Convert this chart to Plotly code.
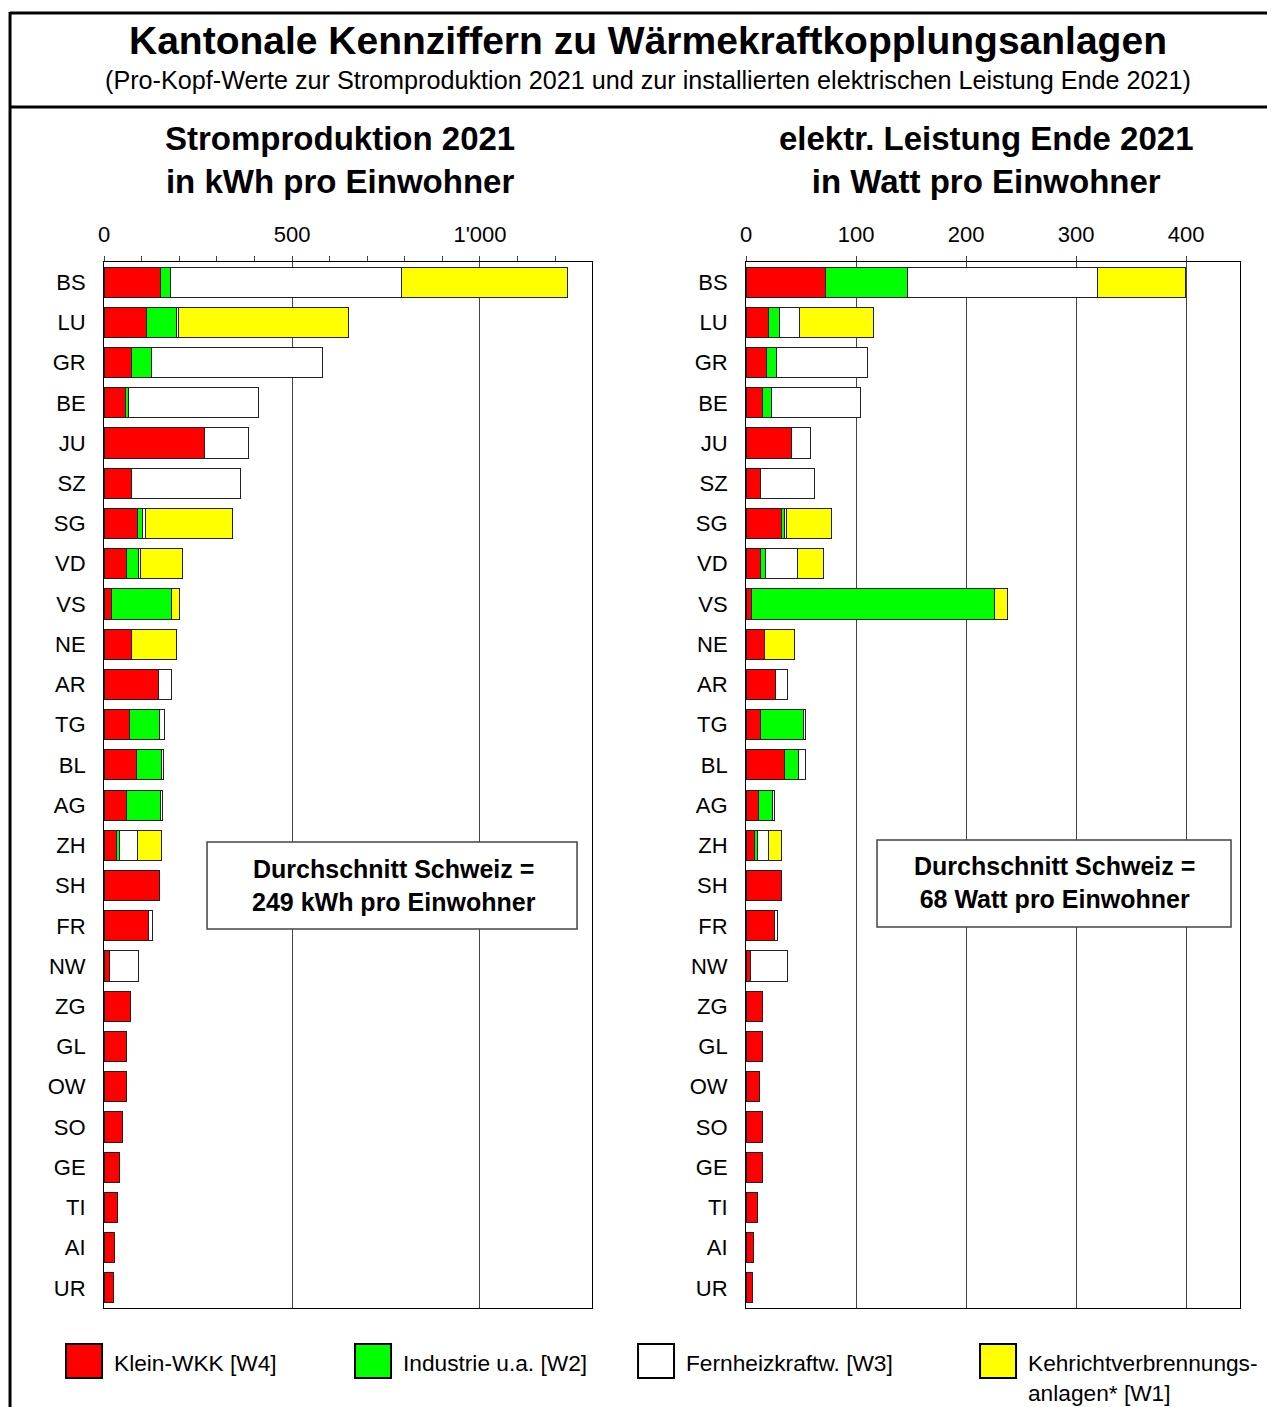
import plotly.graph_objects as go

# Kantone, von oben nach unten
kantone = ["BS", "LU", "GR", "BE", "JU", "SZ", "SG", "VD", "VS", "NE", "AR", "TG", "BL",
           "AG", "ZH", "SH", "FR", "NW", "ZG", "GL", "OW", "SO", "GE", "TI", "AI", "UR"]

# Stromproduktion 2021 in kWh pro Einwohner
kwh_klein = [150, 112, 72, 56, 266, 74, 88, 59, 21, 73, 146, 67, 86,
             60, 32, 148, 117, 15, 70, 61, 60, 50, 40, 35, 27, 25]
kwh_industrie = [28, 81, 55, 10, 0, 0, 13, 33, 158, 0, 0, 80, 66,
                 90, 8, 0, 0, 0, 0, 0, 0, 0, 0, 0, 0, 0]
kwh_fernheiz = [612, 6, 454, 346, 117, 288, 8, 6, 1, 0, 34, 13, 6,
                6, 50, 0, 13, 77, 0, 0, 0, 0, 0, 0, 0, 0]
kwh_kva = [444, 451, 0, 0, 0, 0, 234, 112, 21, 121, 0, 0, 0,
           0, 64, 0, 0, 0, 0, 0, 0, 0, 0, 0, 0, 0]

# elektrische Leistung Ende 2021 in Watt pro Einwohner
w_klein = [72, 20, 19, 15, 41, 13, 32, 13, 5, 17, 27, 13, 35,
           11, 8, 32, 26, 4, 15, 15, 12, 15, 15, 10, 7, 6]
w_industrie = [75, 10, 9, 8, 0, 0, 3, 5, 221, 0, 0, 39, 13,
               13, 2, 0, 0, 0, 0, 0, 0, 0, 0, 0, 0, 0]
w_fernheiz = [172, 19, 82, 81, 18, 49, 2, 29, 0, 0, 11, 2, 6,
              1.5, 10, 0, 3, 34, 0, 0, 0, 0, 0, 0, 0, 0]
w_kva = [80, 67, 0, 0, 0, 0, 41, 23, 12, 27, 0, 0, 0,
         0, 12, 0, 0, 0, 0, 0, 0, 0, 0, 0, 0, 0]

serien = ["Klein-WKK [W4]", "Industrie u.a. [W2]", "Fernheizkraftw. [W3]",
          "Kehrichtverbrennungs-<br>anlagen* [W1]"]
farben = ["#ff0000", "#00ff00", "#ffffff", "#ffff00"]

schnitt_kwh = 249
schnitt_watt = 68

OFF = 8  # Seitenrand des Browsers
W, H = 1275, 1407
FONT = "Arial, Liberation Sans, sans-serif"


def px(x):
    # kleine Korrektur, damit die Positionen im Bild stimmen
    x = (x - 6) / 0.9953
    return (x - OFF) / W


def py(y):
    return 1 - (y - OFF) / H


fig = go.Figure()

for name, farbe, werte in zip(serien, farben, [kwh_klein, kwh_industrie, kwh_fernheiz, kwh_kva]):
    fig.add_trace(go.Bar(y=kantone, x=werte, orientation="h", name=name,
                         marker=dict(color=farbe, line=dict(color="#222", width=1)),
                         xaxis="x", yaxis="y", showlegend=False))

for name, farbe, werte in zip(serien, farben, [w_klein, w_industrie, w_fernheiz, w_kva]):
    fig.add_trace(go.Bar(y=kantone, x=werte, orientation="h", name=name,
                         marker=dict(color=farbe, line=dict(color="#222", width=1)),
                         xaxis="x2", yaxis="y2", showlegend=False))

achse_y = dict(categoryorder="array", categoryarray=kantone, autorange="reversed",
               showline=True, mirror=True, linecolor="black", linewidth=1,
               ticks="", ticklabelstandoff=13, tickfont=dict(size=22, color="black"),
               showgrid=False, zeroline=False)

achse_x = dict(side="top", ticks="outside", ticklen=5, tickcolor="#444",
               ticklabelstandoff=5,
               showgrid=True, gridcolor="#444", gridwidth=1,
               showline=True, mirror=True, linecolor="black", linewidth=1,
               zeroline=False, tickfont=dict(size=22, color="black"))

fig.update_layout(
    width=W, height=H,
    margin=dict(l=0, r=0, t=0, b=0),
    paper_bgcolor="white", plot_bgcolor="white",
    font=dict(family=FONT, color="black"),
    barmode="stack", bargap=0.25,
    xaxis=dict(domain=[px(104), px(592)], range=[0, 1298],
               tickvals=[0, 500, 1000], ticktext=["0", "500", "1'000"],
               minor=dict(dtick=100, tick0=0, ticks="outside", ticklen=5, tickcolor="#444", showgrid=False),
               anchor="y", **achse_x),
    yaxis=dict(domain=[py(1308), py(262)], anchor="x", **achse_y),
    xaxis2=dict(domain=[px(746), px(1240)], range=[0, 449],
                tickvals=[0, 100, 200, 300, 400], anchor="y2", **achse_x),
    yaxis2=dict(domain=[py(1308), py(262)], anchor="x2", **achse_y),
)

# Rahmen
shapes = [
    dict(type="line", xref="paper", yref="paper", x0=px(10), x1=1.2, y0=py(13), y1=py(13),
         line=dict(color="black", width=3)),
    dict(type="line", xref="paper", yref="paper", x0=px(10), x1=1.2, y0=py(107), y1=py(107),
         line=dict(color="black", width=3)),
    dict(type="line", xref="paper", yref="paper", x0=px(10), x1=px(10), y0=py(12), y1=-0.2,
         line=dict(color="black", width=3)),
    # Durchschnitt-Boxen
    dict(type="rect", xref="paper", yref="paper", x0=px(207), x1=px(577), y0=py(842), y1=py(929),
         line=dict(color="#444", width=1.5), fillcolor="white", layer="above"),
    dict(type="rect", xref="paper", yref="paper", x0=px(877), x1=px(1231), y0=py(840), y1=py(927),
         line=dict(color="#444", width=1.5), fillcolor="white", layer="above"),
]

annotations = [
    dict(text="<b>Kantonale Kennziffern zu Wärmekraftkopplungsanlagen</b>", x=px(648), y=py(40),
         font=dict(size=39)),
    dict(text="(Pro-Kopf-Werte zur Stromproduktion 2021 und zur installierten elektrischen Leistung Ende 2021)",
         x=px(648), y=py(80), font=dict(size=25.2)),
    dict(text="<b>Stromproduktion 2021<br>in kWh pro Einwohner</b>", x=px(340), y=py(160),
         font=dict(size=33)),
    dict(text="<b>elektr. Leistung Ende 2021<br>in Watt pro Einwohner</b>", x=px(986), y=py(160),
         font=dict(size=33)),
    dict(text=f"<b>Durchschnitt Schweiz =<br>{schnitt_kwh} kWh pro Einwohner</b>", x=px(394), y=py(885),
         font=dict(size=25)),
    dict(text=f"<b>Durchschnitt Schweiz =<br>{schnitt_watt} Watt pro Einwohner</b>", x=px(1054), y=py(883),
         font=dict(size=25)),
]

# Legende
leg_x = [66, 355, 638, 980]
for xl, name, farbe in zip(leg_x, serien, farben):
    shapes.append(dict(type="rect", xref="paper", yref="paper", x0=px(xl), x1=px(xl + 36),
                       y0=py(1378), y1=py(1344), fillcolor=farbe, line=dict(color="black", width=2)))
    mehrzeilig = "<br>" in name
    annotations.append(dict(text=name, x=px(xl + 46), y=py(1363 if not mehrzeilig else 1378),
                            xanchor="left", align="left", font=dict(size=22.7)))

for a in annotations:
    a.setdefault("xref", "paper")
    a.setdefault("yref", "paper")
    a.setdefault("showarrow", False)
    a.setdefault("xanchor", "center")
    a.setdefault("yanchor", "middle")

fig.update_layout(shapes=shapes, annotations=annotations)

fig.write_html("out.html")
